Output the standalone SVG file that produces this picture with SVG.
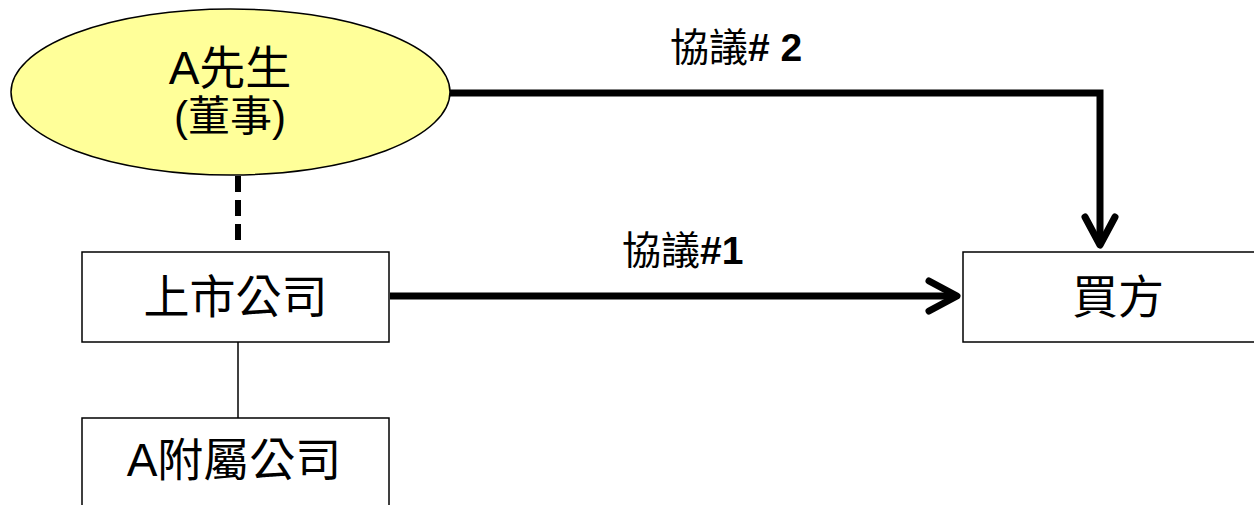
<svg xmlns="http://www.w3.org/2000/svg" width="1254" height="505" viewBox="0 0 1254 505">
<style>
.box{fill:#fff;stroke:#000;stroke-width:1.5}
.t{font-family:"Liberation Sans","Noto Sans CJK TC",sans-serif;fill:#000}
.big{font-size:46px}
.lbl{font-size:39px}
.b{font-weight:bold;font-size:39px}
.thick{fill:none;stroke:#000;stroke-width:7}
</style>
<defs>
<marker id="arr" markerUnits="userSpaceOnUse" viewBox="0 0 40 40" markerWidth="40" markerHeight="40" refX="34" refY="20" orient="auto">
<path d="M6,5 L34,20 L6,35" fill="none" stroke="#000" stroke-width="7" stroke-linecap="round" stroke-linejoin="round"/>
</marker>
</defs>
<rect width="1254" height="505" fill="#fff"/>
<g id="connectors">
<line x1="238" y1="176" x2="238" y2="243" stroke="#000" stroke-width="6" stroke-dasharray="16,8"/>
<line x1="238" y1="342" x2="238" y2="418" stroke="#000" stroke-width="1.5"/>
<path class="thick" d="M450,93 H1100 V245" marker-end="url(#arr)"/>
<path class="thick" d="M390,296 H957" marker-end="url(#arr)"/>
<text class="t lbl" x="670" y="61">協議<tspan class="b"># 2</tspan></text>
<text class="t lbl" x="622" y="264">協議<tspan class="b">#1</tspan></text>
</g>
<g id="mrA">
<ellipse cx="230.5" cy="92" rx="219.5" ry="83" fill="#FFFF99" stroke="#000" stroke-width="1.5"/>
<text class="t big" x="230" y="84" text-anchor="middle">A先生</text>
<text class="t" x="230" y="131" text-anchor="middle" font-size="42">(董事)</text>
</g>
<g id="listed">
<rect class="box" x="82" y="252" width="307" height="90"/>
<text class="t big" x="235.5" y="313" text-anchor="middle">上市公司</text>
</g>
<g id="sub">
<rect class="box" x="82" y="418" width="307" height="100"/>
<text class="t big" x="234" y="476" text-anchor="middle">A附屬公司</text>
</g>
<g id="buyer">
<rect class="box" x="963" y="252" width="300" height="90"/>
<text class="t big" x="1118" y="313" text-anchor="middle">買方</text>
</g>
</svg>
